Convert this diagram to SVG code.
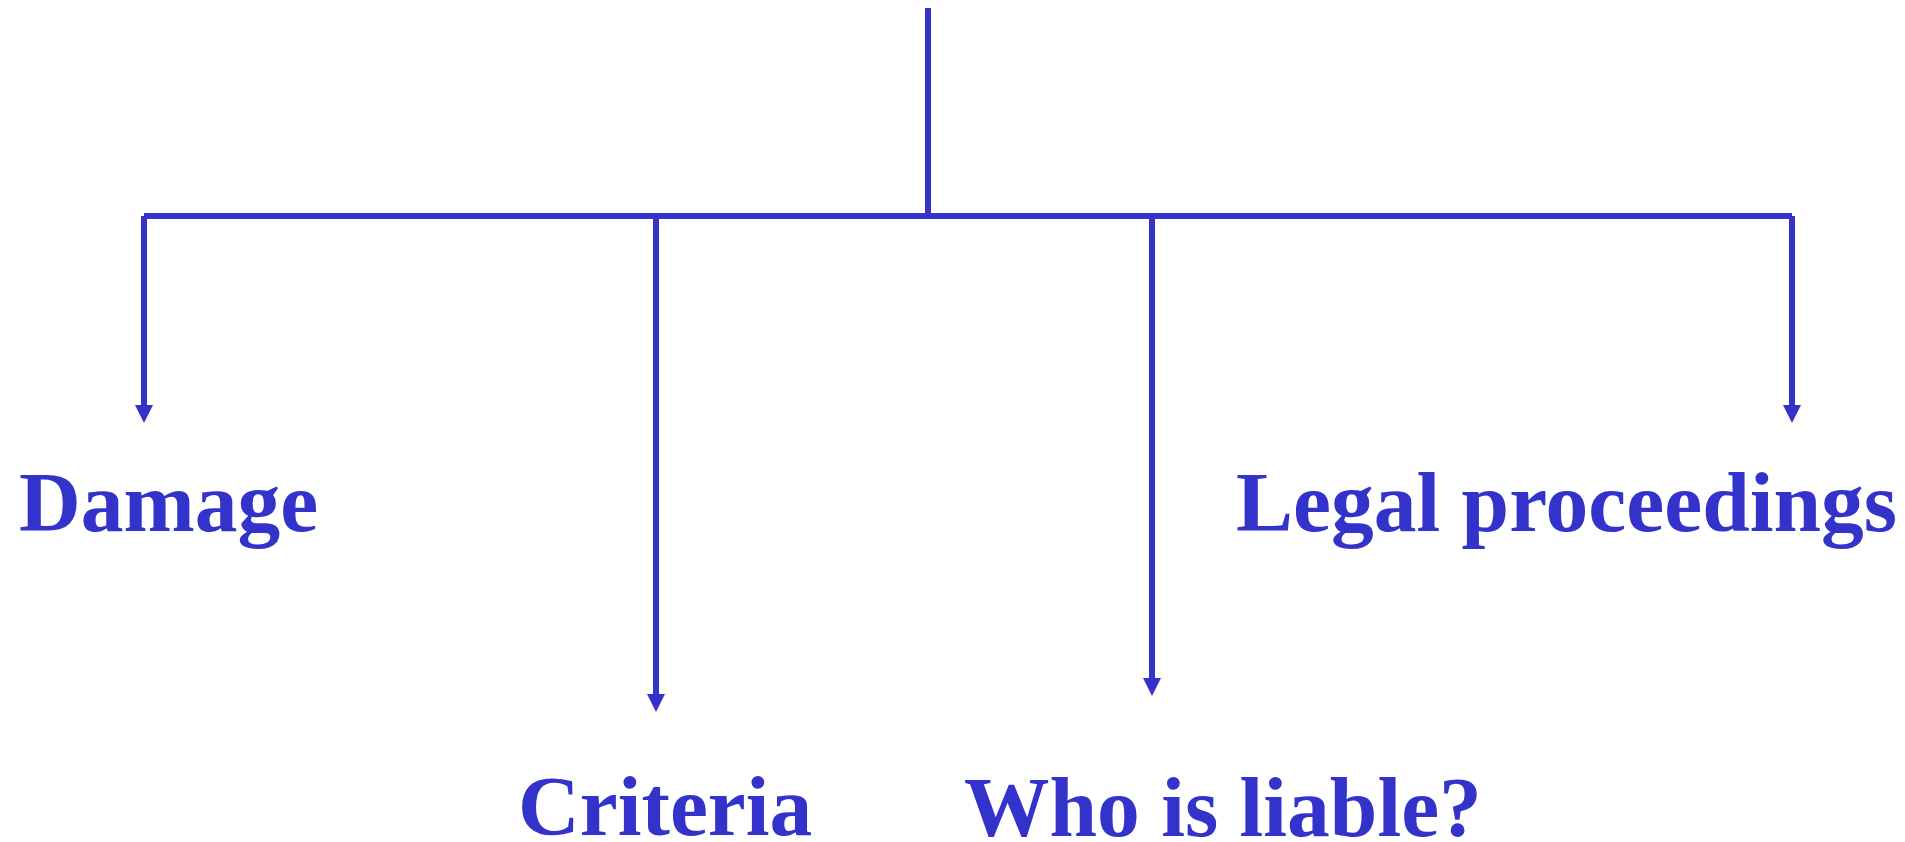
<svg xmlns="http://www.w3.org/2000/svg" width="1905" height="842" viewBox="0 0 1905 842">
  <style>
    .wire { fill: none; stroke: #3333CC; stroke-width: 6; stroke-linecap: butt; }
    .label { font-family: "Liberation Serif", "Times New Roman", serif; font-weight: bold; font-size: 85.5px; fill: #3333CC; }
  </style>
  <defs>
    <marker id="arrow" viewBox="0 0 18 18" refX="0" refY="9" markerWidth="18" markerHeight="18" markerUnits="userSpaceOnUse" orient="auto">
      <path d="M0,0 L18,9 L0,18 z" fill="#3333CC"/>
    </marker>
  </defs>
  <rect width="1905" height="842" fill="#FFFFFF"/>

  <!-- tree connectors: trunk, bar and four drops -->
  <g id="connectors">
    <line class="wire" x1="928" y1="8" x2="928" y2="216"/>
    <line class="wire" x1="144" y1="216" x2="1792" y2="216"/>
    <line class="wire" x1="144" y1="216" x2="144" y2="405" marker-end="url(#arrow)"/>
    <line class="wire" x1="656" y1="216" x2="656" y2="694" marker-end="url(#arrow)"/>
    <line class="wire" x1="1152" y1="216" x2="1152" y2="678" marker-end="url(#arrow)"/>
    <line class="wire" x1="1792" y1="216" x2="1792" y2="405" marker-end="url(#arrow)"/>
  </g>

  <g id="damage">
    <text class="label" x="19" y="531">Damage</text>
  </g>
  <g id="criteria">
    <text class="label" x="518" y="835">Criteria</text>
  </g>
  <g id="who-is-liable">
    <text class="label" x="964" y="836">Who is liable?</text>
  </g>
  <g id="legal-proceedings">
    <text class="label" x="1236" y="531">Legal proceedings</text>
  </g>
</svg>
